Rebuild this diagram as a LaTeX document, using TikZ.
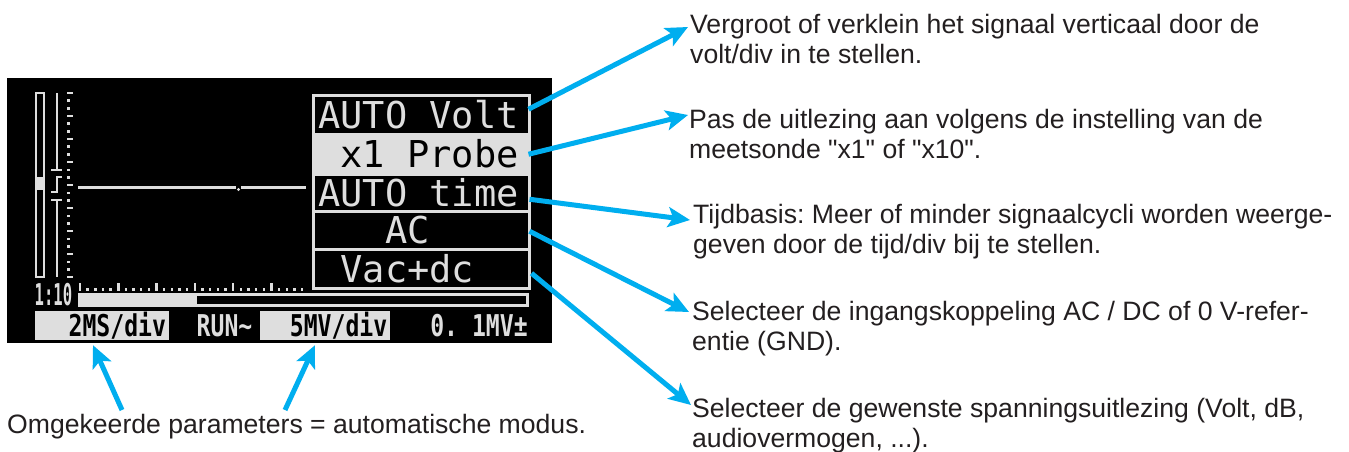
\documentclass[tikz,border=0pt]{standalone}
\usepackage{fontspec}
\setmainfont{Liberation Sans}
\newfontfamily\lcdfont{DejaVu Sans Mono}
\newfontfamily\lcdnarrow{DejaVu Sans Mono}[FakeStretch=0.77]
\newfontfamily\lcdthin{DejaVu Sans Mono}[FakeStretch=0.52]
\usetikzlibrary{arrows.meta,calc}

\definecolor{lcd}{RGB}{222,222,222}
\definecolor{cyanline}{RGB}{0,174,239}
\definecolor{ink}{RGB}{35,31,32}

% one character cell of the display font
\newcommand{\cell}{\hphantom{x}}

\begin{document}
\frenchspacing
\begin{tikzpicture}[x=1pt,y=-1pt,
  lcdrow/.style={rectangle, draw=lcd, line width=2.5pt, fill=black, text=lcd,
    anchor=north west, inner xsep=5pt, inner ysep=0pt, text width=206pt, align=left,
    text height=27pt, text depth=0pt,
    font=\lcdfont\fontsize{37}{37}\selectfont},
  lcdstatus/.style={inner sep=0pt, text height=22pt, text depth=0pt,
    font=\lcdnarrow\bfseries\fontsize{30}{30}\selectfont},
  invbox/.style={rectangle, fill=lcd, text=black, inner xsep=2pt, inner ysep=0pt,
    minimum height=29pt, align=right, text height=22pt, text depth=0pt,
    font=\lcdnarrow\bfseries\fontsize{30}{30}\selectfont},
  callout/.style={draw=cyanline, line width=5pt,
    -{Stealth[length=22pt,width=20pt,inset=5pt]}},
  note/.style={inner sep=0pt, anchor=north west, align=left, text=ink,
    font=\fontsize{26.6}{30}\selectfont\frenchspacing},
]
\fill[white] (0,0) rectangle (1349,452);
\useasboundingbox (0,0) rectangle (1349,452);

% LCD screen
\fill[black] (7,78) rectangle (552,343);

% vertical level bar and trigger marker
\draw[lcd, line width=2pt] (36,93) rectangle (44,277);
\fill[lcd] (36,177) rectangle (44,190);
\draw[lcd, line width=2pt] (57,93) -- (57,170) (51,170) -- (62,170);
\draw[lcd, line width=2pt] (51,192) -- (57,192) -- (57,177) -- (62,177);
\draw[lcd, line width=2pt] (51,200) -- (62,200) (57,200) -- (57,277);

% vertical graticule
\foreach \k in {0,...,24}{
  \pgfmathsetmacro{\yy}{93+\k*7.67}
  \pgfmathtruncatemacro{\mj}{mod(\k,3)==0}
  \ifnum\mj=1
    \fill[lcd] (66.5,\yy-1.2) rectangle (73,\yy+1.2);
  \else
    \fill[lcd] (66.5,\yy-1.2) rectangle (69.5,\yy+1.2);
  \fi
}

% horizontal graticule
\foreach \k in {0,...,29}{
  \pgfmathsetmacro{\xx}{80+\k*7.66}
  \pgfmathtruncatemacro{\mj}{mod(\k,5)==0}
  \ifnum\mj=1
    \fill[lcd] (\xx-1.2,283) rectangle (\xx+1.2,290.5);
  \else
    \fill[lcd] (\xx-1.2,287.5) rectangle (\xx+1.2,290.5);
  \fi
}

% signal trace
\draw[lcd, line width=3pt] (78,187) -- (236,187) (241,187) -- (306,187);
\fill[lcd] (238.5,189.5) circle (1.6);

% time-position bar
\draw[lcd, line width=3pt] (79.5,294.5) rectangle (527,305);
\fill[lcd] (78,293) rectangle (197,306.5);

% probe ratio
\node[inner sep=0pt, text=lcd, text height=22pt, text depth=0pt,
  font=\lcdthin\bfseries\fontsize{30}{30}\selectfont] (ratio) at (53.5,294) {1:10};

% menu panel
\node[lcdrow, minimum height=39pt] (r1) at (312,94) {AUTO\cell Volt};
\node[lcdrow, minimum height=40pt, fill=lcd, text=black] (r2) at (312,133) {\cell x1\cell Probe};
\node[lcdrow, minimum height=37pt] (r3) at (312,173) {AUTO\cell time};
\node[lcdrow, minimum height=38pt] (r4) at (312,210) {\cell\cell\cell AC};
\node[lcdrow, minimum height=39pt] (r5) at (312,248) {\cell Vac+dc};

% status line
\node[invbox, minimum width=134pt, text width=128pt] (ms) at (102,325.5) {2MS/div};
\node[lcdstatus, text=lcd] (run) at (224.5,325.5) {RUN\textasciitilde};
\node[invbox, minimum width=129.5pt, text width=125pt] (mv) at (324.75,325.5) {5MV/div};
\node[lcdstatus, text=lcd] (res) at (479,325.5) {0.\cell 1MV±};

% explanations
\node[note] (t1) at (690,12) {\rule{0pt}{21pt}Vergroot of verklein het signaal verticaal door de\\volt/div in te stellen.};
\node[note] (t2) at (689,107) {\rule{0pt}{21pt}Pas de uitlezing aan volgens de instelling van de\\meetsonde \textquotedbl x1\textquotedbl{} of \textquotedbl x10\textquotedbl.};
\node[note] (t3) at (693,202) {\rule{0pt}{21pt}Tijdbasis: Meer of minder signaalcycli worden weerge-\\geven door de tijd/div bij te stellen.};
\node[note] (t4) at (692,299) {\rule{0pt}{21pt}Selecteer de ingangskoppeling AC / DC of 0 V-refer-\\entie (GND).};
\node[note] (t5) at (692,396) {\rule{0pt}{21pt}Selecteer de gewenste spanningsuitlezing (Volt, dB,\\audiovermogen, ...).};
\node[inner sep=0pt, anchor=base west, text=ink, font=\fontsize{26.6}{30}\selectfont]
  (bt) at (7,433) {Omgekeerde parameters = automatische modus.};

% callout arrows
\draw[callout] ($(r1.east)+(-2,-5.5)$) -- ($(t1.north west)+(-2,15)$);
\draw[callout] ($(r2.east)+(-2,0)$) -- ($(t2.north west)+(-1,8)$);
\draw[callout] ($(r3.east)+(-1,6.5)$) -- ($(t3.north west)+(-3,18)$);
\draw[callout] ($(r4.east)+(-1,1)$) -- ($(t4.north west)+(-3,13)$);
\draw[callout] ($(r5.east)+(1,4.5)$) -- ($(t5.north west)+(-1,9)$);

\coordinate (m1) at (122,410);
\coordinate (m2) at (285,410);
\draw[callout] (m1) -- ($(ms.south)+(-9,5)$);
\draw[callout] (m2) -- ($(mv.south)+(-9.75,5)$);
\end{tikzpicture}
\end{document}
